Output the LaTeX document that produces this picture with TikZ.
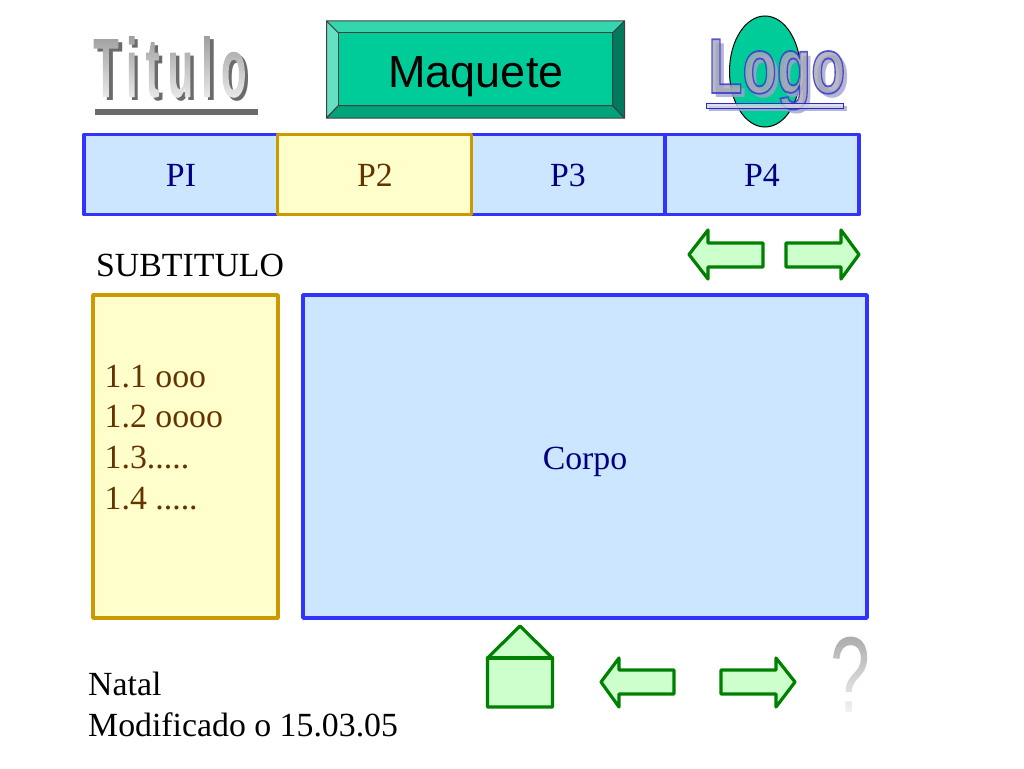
\documentclass[tikz,border=0pt]{standalone}
\usepackage{fontspec}
\setmainfont{Liberation Serif}
\newfontfamily\arialfont{Liberation Sans}
\newfontfamily\wordfont[LetterSpace=19]{Liberation Sans Bold}
\newfontfamily\logofont{Liberation Sans Bold}
\usetikzlibrary{shapes.geometric}
\definecolor{tealmain}{HTML}{00CC99}
\definecolor{tealtop}{HTML}{33D6AD}
\definecolor{tealleft}{HTML}{66E0C2}
\definecolor{tealbottom}{HTML}{00A37A}
\definecolor{tealright}{HTML}{007A5C}
\definecolor{boxblue}{HTML}{3333FF}
\definecolor{boxfill}{HTML}{CCE6FF}
\definecolor{noteline}{HTML}{CC9900}
\definecolor{notefill}{HTML}{FFFFCC}
\definecolor{navytext}{HTML}{000080}
\definecolor{browntext}{HTML}{663300}
\definecolor{arrowline}{HTML}{008000}
\definecolor{arrowfill}{HTML}{CCFFCC}
\definecolor{logoshade}{HTML}{A3A3CC}
\newcommand{\gradword}[3]{\special{pdf:code q 7 Tr}#1\special{pdf:code 0 Tr}\begin{tikzpicture}[overlay,x=1pt,y=1pt]\shade[top color=black!#2,bottom color=black!#3] (-400,-3) rectangle (20,#1@top);\end{tikzpicture}\special{pdf:code Q}}
\renewcommand{\gradword}[4]{\special{pdf:code q 7 Tr}#1\special{pdf:code 0 Tr}\begin{tikzpicture}[overlay,x=1pt,y=1pt]\shade[top color=black!#2,bottom color=black!#3] (-400,-2) rectangle (20,#4);\end{tikzpicture}\special{pdf:code Q}}
\tikzset{
  x=1pt,y=-1pt,
  bluebox/.style={draw=boxblue,fill=boxfill,line width=3.6pt,line join=round,inner sep=0pt},
  notebox/.style={draw=noteline,fill=notefill,line width=3.6pt,line join=round,inner sep=0pt},
  label/.style={anchor=base west,inner sep=0pt,font=\fontsize{33.8}{40}\selectfont},
  plaintext/.style={anchor=base,inner sep=0pt,font=\fontsize{33.8}{40}\selectfont},
  greenshape/.style={draw=arrowline,fill=arrowfill,line width=3.2pt,line join=round},
  bevel/.style={draw=black!75,line width=1pt,line join=round},
  wordart/.style={anchor=base west,inner sep=0pt,font=\fontsize{84}{90}\wordfont},
}
\begin{document}
\begin{tikzpicture}
\useasboundingbox (0,0) rectangle (1024,768);

% Titulo
\node[wordart,text=black!58,xscale=0.5,transform shape] (titleshadow) at (97,100) {Titulo};
\node[wordart,xscale=0.5,transform shape] (titlebase) at (93,97) {\gradword{Titulo}{38}{8}{62}};
\fill[black!58] (95,109) rectangle (258,115);

% Maquete button
\fill[tealtop,bevel] (326.5,21) -- (624.5,21) -- (612.5,33) -- (338.5,33) -- cycle;
\fill[tealleft,bevel] (326.5,21) -- (338.5,33) -- (338.5,105.5) -- (326.5,118) -- cycle;
\fill[tealbottom,bevel] (326.5,118) -- (338.5,105.5) -- (612.5,105.5) -- (624.5,118) -- cycle;
\fill[tealright,bevel] (624.5,21) -- (612.5,33) -- (612.5,105.5) -- (624.5,118) -- cycle;
\node[draw=black!75,line width=1pt,fill=tealmain,minimum width=274pt,minimum height=72.5pt,inner sep=0pt] (maquete) at (475.5,69.2) {};
\node[anchor=base,inner sep=0pt,font=\fontsize{45}{50}\arialfont] (maquetetext) at (476,87) {Maquete};

% Logo
\node[ellipse,draw=black,line width=1pt,fill=tealmain,minimum width=71pt,minimum height=111pt,inner sep=0pt] (logoback) at (765,71.5) {};
\fill[logoshade,opacity=.8] (709,106) rectangle (847,111);
\node[anchor=base west,inner sep=0pt,font=\fontsize{78}{84}\logofont,text=logoshade,text opacity=.8,xscale=0.72,transform shape] (logoshadow) at (712,97) {Logo};
\node[anchor=base west,inner sep=0pt,font=\fontsize{78}{84}\logofont,text opacity=.8,xscale=0.72,transform shape] (logotext) at (708,93)
  {\special{pdf:code q 2 Tr 1.8 w 0.2 0.2 0.8 RG 0.66 0.66 0.72 rg}Logo\special{pdf:code Q}};
\draw[boxblue!80!black,line width=1pt,fill=logoshade!45,fill opacity=.8] (706,103) rectangle (843,108);

% Tabs
\node[bluebox,minimum width=193.5pt,minimum height=80pt] (p1) at (180.7,174.5) {};
\node[bluebox,minimum width=194pt,minimum height=80pt] (p3) at (568,174.5) {};
\node[bluebox,minimum width=194pt,minimum height=80pt] (p4) at (762,174.5) {};
\node[notebox,minimum width=194pt,minimum height=80pt] (p2) at (374.5,174.5) {};
\node[plaintext,text=navytext] (p1t) at (181,186.5) {PI};
\node[plaintext,text=browntext] (p2t) at (375,186.5) {P2};
\node[plaintext,text=navytext] (p3t) at (568,186.5) {P3};
\node[plaintext,text=navytext] (p4t) at (762,186.5) {P4};

% Subtitle
\node[label] (sub) at (96,276) {SUBTITULO};

% Top arrows
\draw[greenshape] (689,254.5) -- (708,230) -- (708,243) -- (763,243) -- (763,267) -- (708,267) -- (708,279) -- cycle;
\draw[greenshape] (859,254.5) -- (841,230) -- (841,243) -- (786,243) -- (786,267) -- (841,267) -- (841,279) -- cycle;

% Boxes
\node[notebox,minimum width=185pt,minimum height=323pt] (menu) at (185.5,456.5) {};
\node[bluebox,minimum width=564pt,minimum height=323pt] (corpo) at (585,456.5) {};
\node[plaintext,text=navytext] (corpot) at (585,469) {Corpo};
\node[label,text=browntext] (m1) at (104.5,387) {1.1 ooo};
\node[label,text=browntext] (m2) at (104.5,427.5) {1.2 oooo};
\node[label,text=browntext] (m3) at (104.5,468.5) {1.3.....};
\node[label,text=browntext] (m4) at (104.5,509) {1.4 .....};

% Footer
\node[label] (natal) at (88,695) {Natal};
\node[label] (mod) at (88,736) {Modificado o 15.03.05};

% Bottom shapes
\draw[greenshape] (487.5,658) -- (520,626) -- (552.5,658) -- (552.5,707) -- (487.5,707) -- cycle;
\draw[arrowline,line width=3.2pt,line cap=round] (487.5,658) -- (552.5,658);
\draw[greenshape] (601,682) -- (619,658) -- (619,670) -- (674,670) -- (674,694) -- (619,694) -- (619,707) -- cycle;
\draw[greenshape] (795,682) -- (776,658) -- (776,670) -- (721,670) -- (721,694) -- (776,694) -- (776,707) -- cycle;

% Question mark
\node[anchor=base west,inner sep=0pt,font=\fontsize{108}{110}\arialfont,xscale=0.66,transform shape] (qbase) at (830,712) {\gradword{?}{34}{4}{80}};
\end{tikzpicture}
\end{document}
